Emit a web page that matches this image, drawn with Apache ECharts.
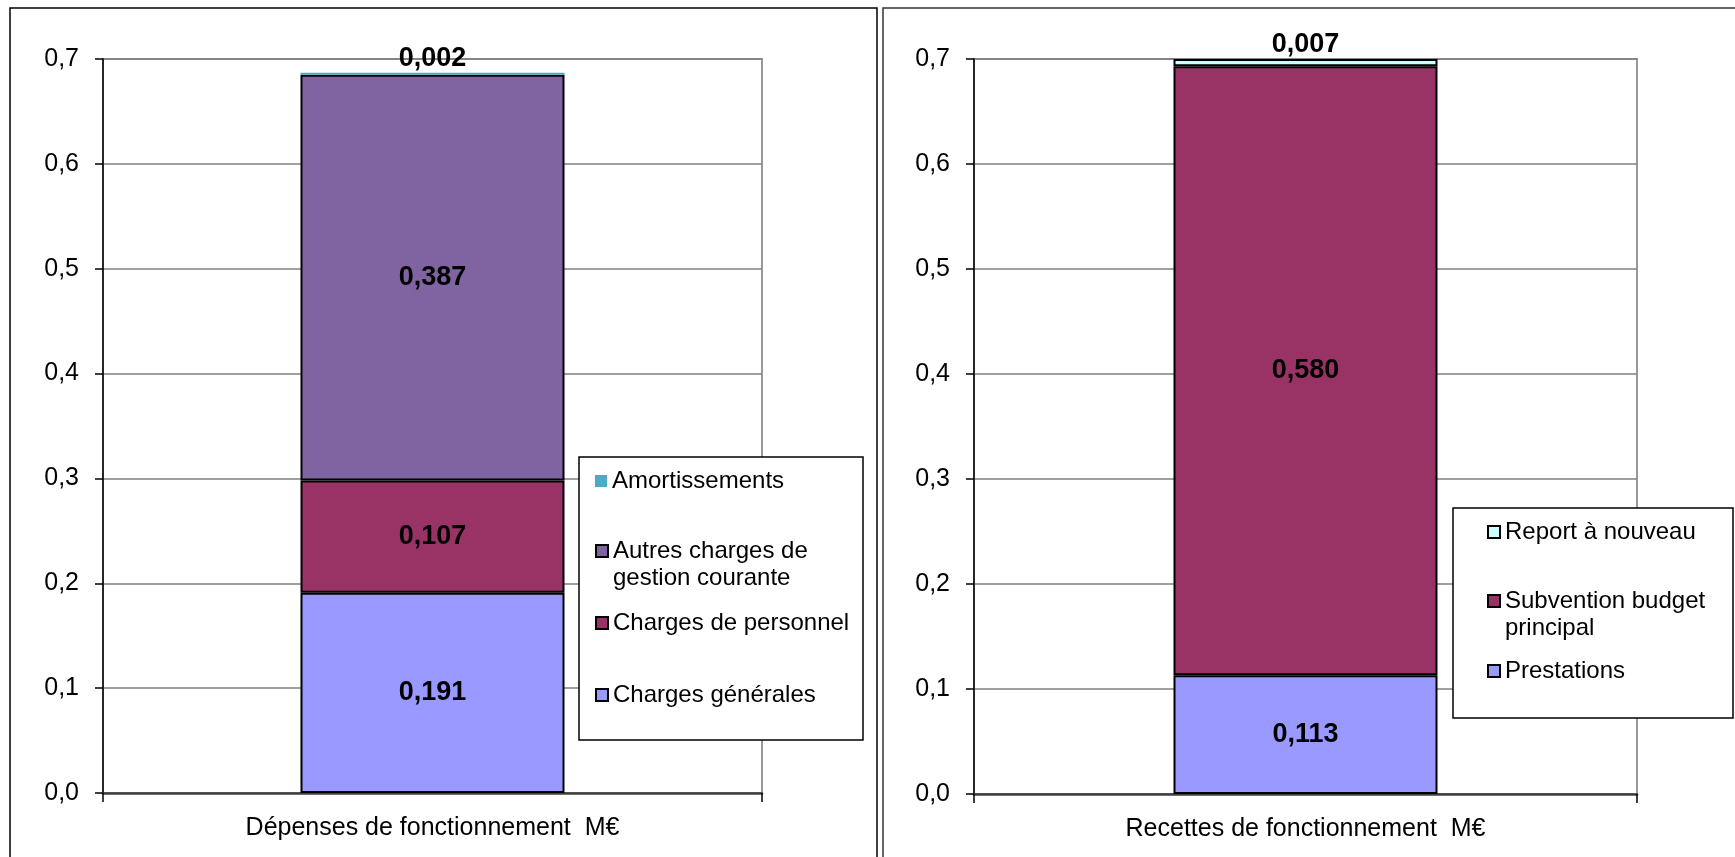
<!DOCTYPE html>
<html>
<head>
<meta charset="utf-8">
<script src="https://cdn.jsdelivr.net/npm/echarts@6/dist/echarts.min.js"></script>
<style>
html,body{margin:0;padding:0;background:#fff;}
#c{width:1735px;height:857px;}
</style>
</head>
<body>
<div id="c"></div>
<script>
// ---- data ----
const depCategory = ['Dépenses de fonctionnement  M€'];
const depNames = ['Charges générales', 'Charges de personnel', 'Autres charges de gestion courante', 'Amortissements'];
const depValues = [0.191, 0.107, 0.387, 0.002];
const depColors = ['#9999FF', '#993366', '#8064A2', '#4BACC6'];

const recCategory = ['Recettes de fonctionnement  M€'];
const recNames = ['Prestations', 'Subvention budget principal', 'Report à nouveau'];
const recValues = [0.113, 0.580, 0.007];
const recColors = ['#9999FF', '#993366', '#CCFFFF'];

const yMin = 0, yMax = 0.7, yStep = 0.1;

// ---- build ----
const FONT = 'Liberation Sans, Arial, sans-serif';
const fmtAxis = v => v.toFixed(1).replace('.', ',');
const fmtVal = p => p.value.toFixed(3).replace('.', ',');

function makeSeries(names, values, colors, idx, stack, topIdx) {
  return names.map((n, i) => ({
    name: n,
    type: 'bar',
    stack: stack,
    xAxisIndex: idx,
    yAxisIndex: idx,
    barWidth: 264,
    data: [values[i]],
    itemStyle: {
      color: colors[i],
      borderColor: '#000',
      borderWidth: (colors[i] === '#4BACC6') ? 0 : 2
    },
    label: {
      show: true,
      position: i === topIdx ? 'top' : 'inside',
      distance: 1,
      formatter: fmtVal,
      fontFamily: FONT,
      fontWeight: 'bold',
      fontSize: 27,
      color: '#000'
    },
    emphasis: { disabled: true },
    animation: false
  }));
}

function xAx(idx, cats) {
  return {
    type: 'category', gridIndex: idx, data: cats,
    axisLine: { lineStyle: { color: '#404040', width: 2.5 } },
    axisTick: { show: true, length: 9, lineStyle: { color: '#000', width: 1.5 } },
    axisLabel: { fontFamily: FONT, fontSize: 25, color: '#000', margin: 23 }
  };
}
function yAx(idx) {
  return {
    type: 'value', gridIndex: idx, min: yMin, max: yMax, interval: yStep,
    axisLine: { show: true, lineStyle: { color: '#000', width: 1.5 } },
    axisTick: { show: true, length: 8, lineStyle: { color: '#000', width: 1.5 } },
    axisLabel: { fontFamily: FONT, fontSize: 25, color: '#000', margin: 24, formatter: fmtAxis },
    splitLine: { show: true, lineStyle: { color: '#808080', width: 1.5 } }
  };
}

const legendFmt = {
  'Autres charges de gestion courante': '\nAutres charges de\ngestion courante',
  'Subvention budget principal': '\nSubvention budget\nprincipal'
};
function leg(name, left, cy) {
  const two = !!legendFmt[name];
  return {
    data: [name],
    left: left,
    top: two ? cy - 40.5 : cy - 13.5,
    padding: 0,
    icon: 'rect',
    itemWidth: 12,
    itemHeight: 12,
    selectedMode: false,
    formatter: n => legendFmt[n] || n,
    textStyle: {
      fontFamily: FONT, fontSize: 24, color: '#000', lineHeight: 27
    }
  };
}

const option = {
  backgroundColor: '#fff',
  animation: false,
  grid: [
    { left: 103, top: 59, width: 659, height: 734, show: true, borderColor: '#999', borderWidth: 2, backgroundColor: 'transparent' },
    { left: 974, top: 59, width: 663, height: 735, show: true, borderColor: '#999', borderWidth: 2, backgroundColor: 'transparent' }
  ],
  xAxis: [xAx(0, depCategory), xAx(1, recCategory)],
  yAxis: [yAx(0), yAx(1)],
  legend: [
    leg('Amortissements', 595, 481),
    leg('Autres charges de gestion courante', 595, 551),
    leg('Charges de personnel', 595, 623),
    leg('Charges générales', 595, 695),
    leg('Report à nouveau', 1487, 532),
    leg('Subvention budget principal', 1487, 601),
    leg('Prestations', 1487, 671)
  ],
  graphic: [
    { type: 'rect', z: 0, shape: { x: 10, y: 8, width: 867, height: 900 }, style: { fill: null, stroke: '#000', lineWidth: 1.5 } },
    { type: 'rect', z: 0, shape: { x: 883, y: 8, width: 900, height: 900 }, style: { fill: null, stroke: '#333', lineWidth: 1.5 } },
    { type: 'rect', z: 3, shape: { x: 579, y: 457, width: 284, height: 283 }, style: { fill: '#fff', stroke: '#000', lineWidth: 1.5 } },
    { type: 'rect', z: 3, shape: { x: 1453, y: 508, width: 280, height: 210 }, style: { fill: '#fff', stroke: '#000', lineWidth: 1.5 } }
  ],
  series: [].concat(
    makeSeries(depNames, depValues, depColors, 0, 'dep', 3),
    makeSeries(recNames, recValues, recColors, 1, 'rec', 2)
  )
};

const chart = echarts.init(document.getElementById('c'), null, { renderer: 'canvas' });
chart.setOption(option);
</script>
</body>
</html>
